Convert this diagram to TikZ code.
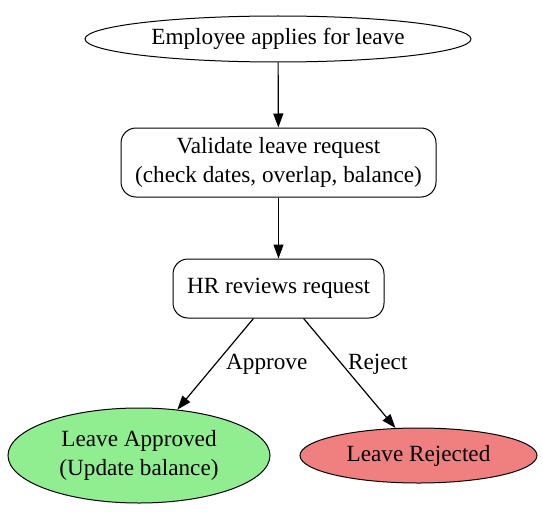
\documentclass[tikz,border=0pt]{standalone}
\usepackage{fontspec}
\setmainfont{Liberation Serif}
\usetikzlibrary{shapes.geometric,arrows.meta}
\definecolor{lgreen}{RGB}{144,238,144}
\definecolor{lcoral}{RGB}{240,128,128}
\begin{document}
\begin{tikzpicture}[x=1pt,y=-1pt,
  font=\fontsize{23.2}{29}\selectfont,
  ell/.style={draw, ellipse, line width=1pt, inner sep=0pt, align=center},
  rbox/.style={draw, rounded corners=15pt, line width=1pt, inner sep=0pt, align=center},
  arr/.style={line width=1.2pt, -{Triangle[length=14pt,width=10pt]}},
  lbl/.style={anchor=west, inner sep=0pt}
]
\useasboundingbox (0,0) rectangle (543,511);
\node[ell, minimum width=386pt, minimum height=46pt] (emp) at (278,39) {Employee applies for leave};
\node[rbox, minimum width=315pt, minimum height=69pt] (val) at (278.5,162.5) {Validate leave request\\(check dates, overlap, balance)};
\node[rbox, minimum width=211pt, minimum height=59pt] (hr) at (278.5,288.5) {HR reviews request};
\node[ell, fill=lgreen, minimum width=262pt, minimum height=95pt] (app) at (139,455.5) {Leave Approved\\(Update balance)};
\node[ell, fill=lcoral, minimum width=237pt, minimum height=55pt] (rej) at (418.5,455.5) {Leave Rejected};
\draw[arr] (emp) -- (val);
\draw[arr] (val) -- (hr);
\draw[arr] (hr) -- (app);
\draw[arr] (hr) -- (rej);
\node[lbl] (la) at (226,364.5) {Approve};
\node[lbl] (lr) at (348,364.5) {Reject};
\end{tikzpicture}
\end{document}
